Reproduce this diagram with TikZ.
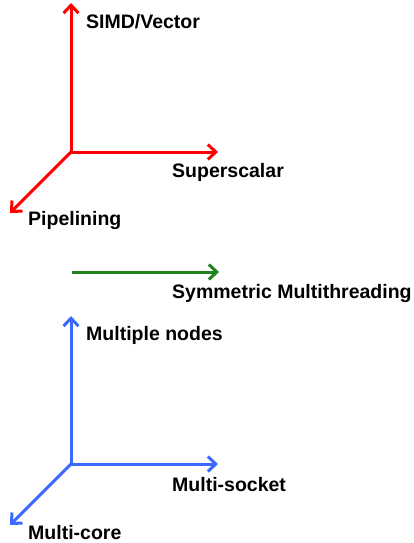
\documentclass[tikz,border=0pt]{standalone}
\usepackage{fontspec}
\setmainfont{Liberation Sans}
\usetikzlibrary{arrows.meta}
\definecolor{axred}{RGB}{255,0,0}
\definecolor{axgreen}{RGB}{30,130,30}
\definecolor{axblue}{RGB}{60,105,255}
\tikzset{
  axis/.style={line width=3pt, -{Straight Barb[length=8pt,width=15pt,line width=3pt]}},
  lbl/.style={anchor=west, inner sep=0pt, font=\fontsize{19.5}{21}\selectfont\bfseries}
}
\begin{document}
\begin{tikzpicture}[x=1pt, y=-1pt]
    \useasboundingbox (0,0) rectangle (413,543);

    % Instruction-level axes
    \coordinate (O1) at (71,152);
    \coordinate (simdtip) at (71,3);
    \coordinate (suptip) at (218,152);
    \coordinate (pipetip) at (10,213);
    \draw[axis, axred] (O1) -- (simdtip);
    \draw[axis, axred] (O1) -- (suptip);
    \draw[axis, axred] (O1) -- (pipetip);
    \node[lbl] (simd) at (86,22) {SIMD/Vector};
    \node[lbl] (superscalar) at (172,172) {Superscalar};
    \node[lbl] (pipelining) at (28,220) {Pipelining};

    % Thread-level axis
    \coordinate (smtstart) at (72,272);
    \coordinate (smttip) at (219,272);
    \draw[axis, axgreen] (smtstart) -- (smttip);
    \node[lbl] (smt) at (172,293) {Symmetric Multithreading};

    % Machine-level axes
    \coordinate (O2) at (71,464);
    \coordinate (nodestip) at (71,316);
    \coordinate (sockettip) at (218,464);
    \coordinate (coretip) at (10,525);
    \draw[axis, axblue] (O2) -- (nodestip);
    \draw[axis, axblue] (O2) -- (sockettip);
    \draw[axis, axblue] (O2) -- (coretip);
    \node[lbl] (nodes) at (86,335) {Multiple nodes};
    \node[lbl] (socket) at (172,485) {Multi-socket};
    \node[lbl] (core) at (28,533) {Multi-core};
\end{tikzpicture}
\end{document}
